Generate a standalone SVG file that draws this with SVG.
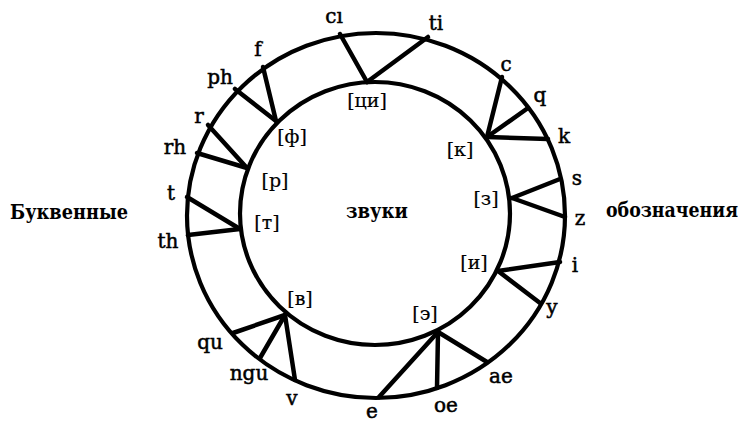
<svg xmlns="http://www.w3.org/2000/svg" width="745" height="422" viewBox="0 0 745 422">
<style>
.ring{fill:none;stroke:#000;stroke-width:4.2}
.c line{stroke:#000;stroke-width:4.5;stroke-linecap:round}
text{font-family:"DejaVu Serif","Liberation Serif",serif;font-size:20px;fill:#000;text-anchor:middle}
.lt{stroke:#000;stroke-width:0.5}
.big{font-weight:bold;font-size:21px}
.snd{font-size:19px;stroke:#000;stroke-width:0.2}
</style>
<rect width="745" height="422" fill="#fff"/>
<g id="outer-ring"><ellipse class="ring" cx="376" cy="215.5" rx="189" ry="182.5"/></g>
<g id="inner-ring"><ellipse class="ring" cx="375" cy="213.5" rx="135" ry="131.5"/></g>
<g class="c" id="connectors">
<line x1="340" y1="34" x2="367" y2="82"/>
<line x1="428" y1="37" x2="367" y2="82"/>
<line x1="235" y1="89" x2="276" y2="121"/>
<line x1="263" y1="67" x2="276" y2="121"/>
<line x1="208" y1="125" x2="247" y2="168"/>
<line x1="197" y1="153" x2="247" y2="168"/>
<line x1="187" y1="197" x2="240" y2="229"/>
<line x1="188" y1="235" x2="240" y2="229"/>
<line x1="502" y1="77" x2="487" y2="137"/>
<line x1="528" y1="108" x2="487" y2="137"/>
<line x1="548" y1="139" x2="487" y2="137"/>
<line x1="560" y1="179" x2="512" y2="198"/>
<line x1="565" y1="217" x2="512" y2="198"/>
<line x1="560" y1="262" x2="498" y2="271"/>
<line x1="540" y1="303" x2="498" y2="271"/>
<line x1="487" y1="362" x2="438" y2="332"/>
<line x1="437" y1="388" x2="438" y2="332"/>
<line x1="379" y1="397" x2="438" y2="332"/>
<line x1="233" y1="333" x2="285" y2="315"/>
<line x1="260" y1="358" x2="285" y2="315"/>
<line x1="295" y1="380" x2="285" y2="315"/>
</g>
<g id="letters" class="lt">
<text x="334" y="23">cı</text>
<text x="436" y="30">ti</text>
<text x="258" y="56">f</text>
<text x="220" y="84">ph</text>
<text x="506" y="71">c</text>
<text x="540" y="102">q</text>
<text x="199" y="123">r</text>
<text x="175" y="154">rh</text>
<text x="171" y="200">t</text>
<text x="168" y="248">th</text>
<text x="564" y="143">k</text>
<text x="577" y="185">s</text>
<text x="580" y="225">z</text>
<text x="575" y="272">i</text>
<text x="552" y="314">y</text>
<text x="501" y="383">ae</text>
<text x="446" y="412">oe</text>
<text x="372" y="418">e</text>
<text x="210" y="349">qu</text>
<text x="249" y="380">ngu</text>
<text x="292" y="405">v</text>
</g>
<g id="sounds">
<text class="snd" x="367" y="107">[ци]</text>
<text class="snd" x="292" y="143">[ф]</text>
<text class="snd" x="275" y="187">[р]</text>
<text class="snd" x="267" y="229">[т]</text>
<text class="snd" x="460" y="156">[к]</text>
<text class="snd" x="486" y="205">[з]</text>
<text class="snd" x="474" y="269">[и]</text>
<text class="snd" x="425" y="320">[э]</text>
<text class="snd" x="300" y="305">[в]</text>
</g>
<g id="captions">
<text class="big" x="377" y="218" textLength="62" lengthAdjust="spacingAndGlyphs">звуки</text>
<text class="big" x="69" y="219" textLength="118" lengthAdjust="spacingAndGlyphs">Буквенные</text>
<text class="big" style="font-size:17.5px" transform="translate(672,217) scale(1,1.18)" x="0" y="0" textLength="132" lengthAdjust="spacingAndGlyphs">обозначения</text>
</g>
</svg>
